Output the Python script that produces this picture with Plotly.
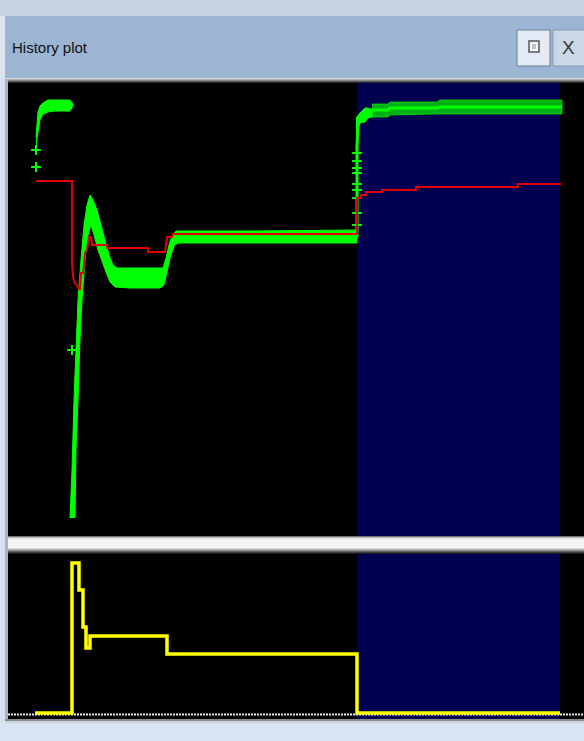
import plotly.graph_objects as go

# ---------------- data (time units, value units) ----------------
# Top panel: green signal envelopes
g_a_t = [28, 29, 30, 32, 35, 40, 47, 62, 65]
g_a_hi = [400, 419, 425, 431, 434, 437, 437, 437, 433]
g_a_lo = [385, 399, 407, 417, 423, 425, 426, 426, 431]

g_b_up_t = [62, 64, 66, 68, 70, 73, 76, 79, 82, 85, 89, 93, 97, 101, 105, 109, 122, 142, 155, 158, 161, 164, 168, 242, 349]
g_b_up_v = [19, 67, 137, 187, 237, 277, 312, 332, 342, 337, 327, 312, 297, 282, 272, 269, 269, 269, 269, 279, 292, 301, 306, 306, 307]
g_b_lo_t = [67, 68, 70, 72, 74, 77, 80, 83, 86, 90, 94, 98, 102, 107, 122, 152, 156, 159, 162, 166, 170, 242, 349]
g_b_lo_v = [19, 87, 137, 197, 237, 277, 302, 312, 302, 287, 275, 265, 255, 250, 249, 249, 252, 265, 279, 291, 294, 294, 294]

g_head_t = [348, 350, 352, 357, 360, 364]
g_head_hi = [419, 422, 424, 429, 429, 427]
g_head_lo = [389, 407, 414, 415, 419, 420]

g_comb_t = [364, 380, 382, 429, 432, 554]
g_comb_hi = [433, 433, 435, 435, 437, 437]
g_comb_lo = [420, 420, 422, 423, 423, 423]

g_c_t = [349, 349, 350, 352, 355, 359, 364, 380, 382, 429, 432, 554]
g_c_v = [300, 389, 415, 421, 425, 427, 427, 427, 429, 429, 430, 430]

g_mk_t = [349, 349, 349, 349, 349, 349, 349, 349, 349, 28, 28, 64]
g_mk_v = [384, 376, 369, 364, 353, 347, 339, 324, 312, 387, 370, 187]

# Top panel: red signal
red_t = [28, 64, 64, 65, 67, 69, 72, 73, 75, 76, 77, 79, 80, 81, 83, 84, 99, 99, 140, 140, 157, 159, 164, 165, 349,
         349, 353, 353, 358, 358, 374, 374, 408, 408, 510, 510, 553]
red_v = [356, 356, 275, 260, 254, 251, 247, 264, 264, 272, 284, 287, 294, 300, 300, 292, 292, 289, 289, 285, 285, 300, 300, 303, 303,
         339, 339, 342, 342, 345, 345, 347, 347, 350, 350, 353, 353]

# Bottom panel: yellow step signal
yel_t = [27, 64, 71, 75, 78, 82, 159, 349, 552]
yel_v = [6, 156, 129, 92, 71, 83, 65, 6, 6]

# Highlighted interval
band_t = [349, 552]

# ---------------- figure ----------------
W, H = 584, 741


def py(p):
    return 1 - p / H


fig = go.Figure()

GREEN = "#00ff00"


def poly(t_up, v_up, t_lo, v_lo, color, xa="x", ya="y"):
    fig.add_trace(go.Scatter(
        x=list(t_up) + list(t_lo)[::-1], y=list(v_up) + list(v_lo)[::-1],
        mode="lines", fill="toself", fillcolor=color,
        line=dict(color=color, width=1), hoverinfo="skip", showlegend=False,
        xaxis=xa, yaxis=ya))


poly(g_a_t, g_a_hi, g_a_t, g_a_lo, GREEN)
poly(g_b_up_t, g_b_up_v, g_b_lo_t, g_b_lo_v, GREEN)
poly(g_comb_t, g_comb_hi, g_comb_t, g_comb_lo, "rgba(0,235,0,0.75)")
poly(g_head_t, g_head_hi, g_head_t, g_head_lo, GREEN)
fig.add_trace(go.Scatter(x=g_c_t, y=g_c_v, mode="lines", line=dict(color=GREEN, width=3),
                         hoverinfo="skip", showlegend=False))
fig.add_trace(go.Scatter(x=g_mk_t, y=g_mk_v, mode="markers",
                         marker=dict(symbol="cross-thin", size=7, line=dict(color=GREEN, width=2)),
                         hoverinfo="skip", showlegend=False))
fig.add_trace(go.Scatter(x=red_t, y=red_v, mode="lines", line=dict(color="#e00000", width=2),
                         hoverinfo="skip", showlegend=False))

# bottom panel
fig.add_trace(go.Scatter(x=[0, 576], y=[4.5, 4.5], mode="lines",
                         line=dict(color="#e8e8e8", width=2, dash="2px,1px"),
                         hoverinfo="skip", showlegend=False, xaxis="x2", yaxis="y2"))
fig.add_trace(go.Scatter(x=yel_t, y=yel_v, mode="lines", line=dict(color="#ffff00", width=3.5, shape="hv"),
                         hoverinfo="skip", showlegend=False, xaxis="x2", yaxis="y2"))

shapes = []


def prect(x0, y0, x1, y1, color, line=None, layer="above"):
    d = dict(type="rect", xref="paper", yref="paper", x0=x0 / W, x1=x1 / W, y0=py(y1), y1=py(y0),
             fillcolor=color, line=dict(width=0), layer=layer)
    if line:
        d["line"] = line
    shapes.append(d)


# highlighted interval in both panels
for xr, yr in (("x", "y domain"), ("x2", "y2 domain")):
    shapes.append(dict(type="rect", xref=xr, yref=yr, x0=band_t[0], x1=band_t[1], y0=0, y1=1,
                       fillcolor="#000050", line=dict(width=0), layer="below"))

# window chrome
prect(0, 0, W, 16, "#c6d3e1")
prect(0, 16, W, 79, "#9bb5d3")
prect(0, 16, 5, 79, "#dbe5f0")
for i, c in enumerate(["#d8d8d8", "#b0b0b0", "#888888", "#5a5a5a", "#2a2a2a"]):
    prect(5, 78 + i, W, 79 + i, c)
prect(0, 79, 5, H, "#d6e2ef")
prect(5, 79, 8, 720, "#a9b4c0")
# separator between panels
for i, c in enumerate(["#707070", "#b8b8b8", "#e6e6e6"]):
    prect(8, 536 + i, W, 537 + i, c)
prect(8, 539, W, 548, "#f3f3f3")
for i, c in enumerate(["#dcdcdc", "#b4b4b4", "#8c8c8c", "#646464", "#3c3c3c", "#1e1e1e"]):
    prect(8, 548 + i, W, 549 + i, c)
# bottom edge
prect(5, 719, W, 721, "#8c8c8c")
prect(5, 721, W, 723, "#c8d2dc")
prect(0, 723, W, H, "#d8e4f1")
# buttons
prect(517, 30, 550, 66, "#e2eaf4", line=dict(color="#6f7f94", width=1))
prect(529, 41, 539, 52, "#f4f6f8", line=dict(color="#555555", width=1.5))
prect(532, 44, 536, 49, "#b8c4d0")
prect(553, 30, 600, 66, "#c9d7e7", line=dict(color="#8a9ab0", width=1))

annotations = [
    dict(text="History plot", x=10 / W, y=py(47), xref="paper", yref="paper", xanchor="left", yanchor="middle",
         showarrow=False, font=dict(family="Liberation Sans Narrow, Liberation Sans, sans-serif", size=15,
                                    color="#111111")),
    dict(text="X", x=568 / W, y=py(48), xref="paper", yref="paper", xanchor="center", yanchor="middle",
         showarrow=False, font=dict(family="Liberation Sans Narrow, Liberation Sans, sans-serif", size=19,
                                    color="#3a3a3a")),
]

ax = dict(visible=False, showgrid=False, zeroline=False, fixedrange=True)
fig.update_layout(
    width=W, height=H, autosize=False,
    margin=dict(l=0, r=0, t=0, b=0),
    paper_bgcolor="#d6e2ef", plot_bgcolor="#000000",
    xaxis=dict(ax, domain=[8 / W, 1], range=[0, 576]),
    yaxis=dict(ax, domain=[py(537), py(83)], range=[0, 454]),
    xaxis2=dict(ax, domain=[8 / W, 1], range=[0, 576], anchor="y2"),
    yaxis2=dict(ax, domain=[py(719), py(554)], range=[0, 165], anchor="x2"),
    shapes=shapes, annotations=annotations, showlegend=False,
)

fig.write_html("out.html", config={"displayModeBar": False},
               post_script="document.body.style.margin='0';document.body.style.padding='0';"
                           "document.body.style.overflow='hidden';")
